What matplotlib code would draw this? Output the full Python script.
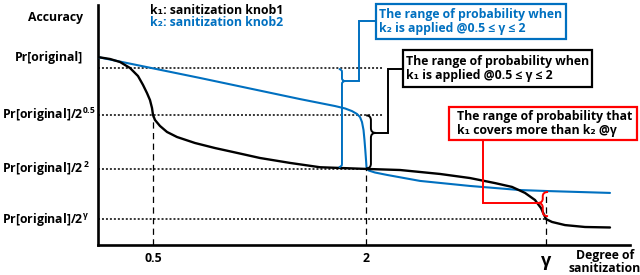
import matplotlib
matplotlib.use("Agg")
import matplotlib.pyplot as plt
from matplotlib.path import Path
from matplotlib.patches import PathPatch, Rectangle
from matplotlib.transforms import blended_transform_factory

FAMS = ['Open Sans', 'DejaVu Sans']
plt.rcParams['font.family'] = FAMS
plt.rcParams['font.weight'] = 'bold'
plt.rcParams['mathtext.fontset'] = 'custom'
plt.rcParams['mathtext.rm'] = 'Open Sans:bold'
plt.rcParams['mathtext.it'] = 'Open Sans:bold'
plt.rcParams['mathtext.bf'] = 'Open Sans:bold'

BLUE = '#0070C0'
RED = '#FF0000'
FS = 8.8

# ---- data (abstract units: degree of sanitization 0..100, accuracy 0..100) ----
x_ticks = [10.34, 50.38, 84.21]
x_tick_labels = ['0.5', '2', 'γ']

y_orig = 78.3
y_k2_half = 73.75      # k2 accuracy at gamma = 0.5
y_half = 54.2          # Pr[original]/2^0.5
y_two = 31.7           # Pr[original]/2^2
y_gamma = 10.8         # Pr[original]/2^gamma
y_k2_gamma = 22.5      # k2 accuracy at gamma

k1_x = [0, 2.26, 4.14, 6.02, 7.52, 8.46, 9.21, 9.77, 10.15, 10.34, 10.71, 11.65, 12.97,
        14.85, 18.23, 21.99, 25.38, 30.45, 36.09, 41.73, 50.38, 56.77, 64.29, 69.92,
        74.62, 77.82, 80.26, 82.14, 83.27, 84.21, 85.34, 87.78, 91.54, 96.24]
k1_y = [78.3, 77.5, 76.25, 73.75, 70.4, 66.7, 63.3, 60.4, 57.1, 54.2, 52.1, 49.6, 47.1,
        45.0, 42.5, 40.4, 38.75, 36.25, 34.2, 32.4, 31.7, 31.25, 29.6, 27.9,
        25.8, 24.2, 21.7, 18.75, 15.4, 10.8, 9.6, 8.3, 7.5, 7.3]

k2_x = [0, 19.17, 37.97, 44.55, 46.43, 47.74, 48.68, 49.25, 49.62, 49.91, 50.09, 50.24,
        50.38, 50.47, 50.66, 50.94, 52.07, 54.32, 60.53, 69.92, 79.32, 84.21, 96.24]
k2_y = [78.3, 69.6, 60.8, 57.9, 56.9, 55.8, 54.6, 53.3, 51.25, 47.9, 43.75, 39.6,
        35.4, 32.5, 31.5, 31.0, 30.2, 29.2, 26.7, 24.6, 22.9, 22.5, 21.7]

y_labels = ['Pr[original]', r'$\mathrm{Pr[original]/2}^{\mathrm{0.5}}$',
            r'$\mathrm{Pr[original]/2}^{\,\mathrm{2}}$', r'$\mathrm{Pr[original]/2}^{\gamma}$']

# ---- figure ----
fig = plt.figure(figsize=(6.4, 2.75), dpi=100)
ax = fig.add_axes([98 / 640, 30 / 275, 532 / 640, 240 / 275])
ax.set_xlim(0, 100)
ax.set_ylim(0, 100)
for s in ['top', 'right']:
    ax.spines[s].set_visible(False)
for s in ['left', 'bottom']:
    ax.spines[s].set_linewidth(1.9)
ax.set_yticks([])
ax.set_xticks(x_ticks, x_tick_labels)
ax.tick_params(axis='x', length=0, pad=5, labelsize=FS)
for lab in ax.get_xticklabels():
    lab.set_fontweight('bold')
    if lab.get_text() == 'γ':
        lab.set_fontsize(13)

# guide lines
dot = (0, (1.3, 1.3))
ax.hlines(y_k2_half, 0, 53.5, colors='black', linestyles=[dot], lw=1.1)
ax.hlines(y_half, 0, 53.7, colors='black', linestyles=[dot], lw=1.1)
ax.hlines(y_two, 0, x_ticks[1], colors='black', linestyles=[dot], lw=1.1)
ax.hlines(y_gamma, 0, x_ticks[2], colors='black', linestyles=[dot], lw=1.1)
dash = (0, (5, 3.5))
ax.vlines(x_ticks[0], 0, y_half, colors='black', linestyles=[dash], lw=0.9)
ax.vlines(x_ticks[1], 0, y_two, colors='black', linestyles=[dash], lw=0.9)
ax.vlines(x_ticks[2], 0, y_k2_gamma, colors='black', linestyles=[dash], lw=0.9)

# curves
ax.plot(k2_x, k2_y, color=BLUE, lw=1.5, solid_capstyle='round', zorder=3)
ax.plot(k1_x, k1_y, color='black', lw=1.7, solid_capstyle='round', zorder=4)


def brace(x, ytop, ybot, ytip, w, r, color, lw=1.4):
    """Curly brace at x; w>0 -> tip points right, w<0 -> tip points left."""
    verts = [(x - w, ytop), (x, ytop), (x, ytop - r),
             (x, ytip + r), (x, ytip), (x + w, ytip),
             (x, ytip), (x, ytip - r),
             (x, ybot + r), (x, ybot), (x - w, ybot)]
    codes = [Path.MOVETO, Path.CURVE3, Path.CURVE3,
             Path.LINETO, Path.CURVE3, Path.CURVE3,
             Path.CURVE3, Path.CURVE3,
             Path.LINETO, Path.CURVE3, Path.CURVE3]
    ax.add_patch(PathPatch(Path(verts, codes), fill=False, edgecolor=color, lw=lw,
                           clip_on=False, zorder=5))


def leader(xs, ys, color):
    ax.plot(xs, ys, color=color, lw=1.4, clip_on=False, zorder=5, solid_joinstyle='miter')


def box(x0, y0, x1, y1, color, lines, tcolor, tx):
    ax.add_patch(Rectangle((x0, y0), x1 - x0, y1 - y0, fill=False, edgecolor=color,
                           lw=1.6, clip_on=False, zorder=6))
    ax.text(tx, (y0 + y1) / 2, lines, ha='left', va='center', color=tcolor,
            fontsize=FS, fontweight='bold', linespacing=1.12, clip_on=False, zorder=7)


# k2 range (blue)
brace(45.86, 73.3, 32.5, 68.3, 0.6, 1.2, BLUE)
leader([46.46, 49.06, 49.06, 52.26], [68.3, 68.3, 93.3, 93.3], BLUE)
box(52.26, 85.8, 87.97, 100.4, BLUE,
    'The range of probability when\nk₂ is applied @0.5 ≤ γ ≤ 2', BLUE, 52.9)

# k1 range (black)
brace(51.3, 54.0, 31.9, 46.7, 0.9, 2.0, 'black')
leader([52.2, 54.51, 54.51, 57.33], [46.7, 46.7, 73.3, 73.3], 'black')
box(57.33, 65.8, 92.86, 81.25, 'black',
    'The range of probability when\nk₁ is applied @0.5 ≤ γ ≤ 2', 'black', 57.9)

# k1 covers more than k2 at gamma (red)
brace(83.6, 22.1, 12.0, 17.5, -1.0, 1.8, RED)
leader([82.6, 72.37, 72.37], [17.5, 17.5, 43.75], RED)
box(65.98, 43.75, 101.32, 57.5, RED,
    'The range of probability that\nk₁ covers more than k₂ @γ', 'black', 67.5)

# legend-like labels
ax.text(9.77, 97.9, 'k₁: sanitization knob1', color='black', fontsize=FS,
        fontweight='bold', va='center', ha='left', clip_on=False)
ax.text(9.77, 92.9, 'k₂: sanitization knob2', color=BLUE, fontsize=FS,
        fontweight='bold', va='center', ha='left', clip_on=False)

# y-axis labels
tr = blended_transform_factory(fig.transFigure, ax.transData)
ax.text(28 / 640, 94.6, 'Accuracy', transform=tr, fontsize=FS, fontweight='bold',
        ha='left', va='center')
ax.text(15 / 640, y_orig, y_labels[0], transform=tr, fontsize=FS, fontweight='bold',
        ha='left', va='center')
for yv, lab in zip([y_half, y_two, y_gamma], y_labels[1:]):
    ax.text(2 / 640, yv, lab, transform=tr, fontsize=FS, ha='left', va='center')

# x-axis title
ax.text(605 / 640, 13 / 275, 'Degree of\nsanitization', transform=fig.transFigure,
        fontsize=FS, fontweight='bold', ha='center', va='center', linespacing=1.0)

fig.savefig('out.png', dpi=100)
